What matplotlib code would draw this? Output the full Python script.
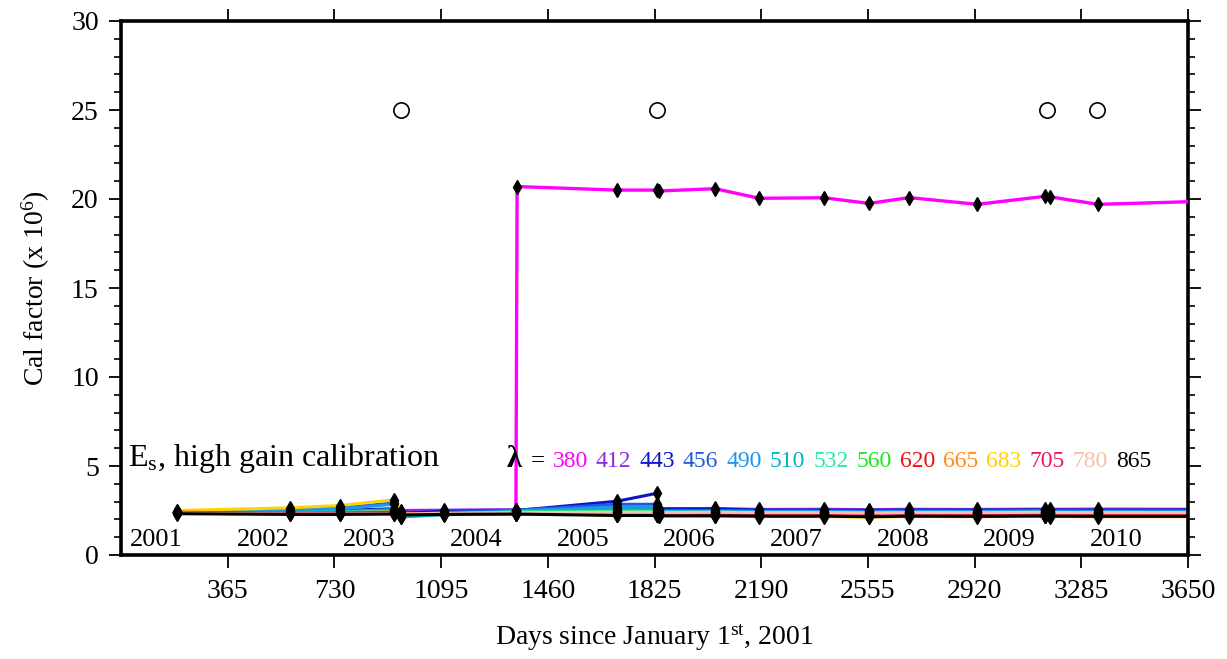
import matplotlib.pyplot as plt
import numpy as np

plt.rcParams['font.family'] = ['Liberation Serif', 'DejaVu Serif']
plt.rcParams['mathtext.fontset'] = 'custom'
plt.rcParams['mathtext.rm'] = 'Liberation Serif'
plt.rcParams['mathtext.it'] = 'Liberation Serif:italic'
plt.rcParams['mathtext.bf'] = 'Liberation Serif:bold'

# measurement days (days since 2001-01-01); last entry runs off the right edge
days_low = [192, 578, 749, 934, 958, 1105, 1351, 1697, 1834, 1841, 2032,
            2183, 2405, 2559, 2696, 2929, 3161, 3178, 3343, 3700]
days_380 = [1351, 1355, 1697, 1834, 1841, 2032, 2183, 2405, 2559, 2696,
            2929, 3161, 3178, 3343, 3700]

cal_380 = [2.50, 20.70, 20.50, 20.50, 20.45, 20.58, 20.04, 20.07, 19.75,
           20.08, 19.70, 20.15, 20.12, 19.70, 19.87]
cal_412 = [2.40, 2.35, 2.35, 2.40, 2.50, 2.52, 2.55, 2.58, 2.60, 2.58, 2.62,
           2.56, 2.57, 2.55, 2.57, 2.56, 2.58, 2.57, 2.58, 2.57]
cal_443 = [2.40, 2.45, 2.50, 2.60, 2.35, 2.45, 2.50, 3.02, 3.47, 2.60, 2.58,
           2.52, 2.52, 2.50, 2.52, 2.52, 2.53, 2.52, 2.52, 2.52]
cal_456 = [2.42, 2.55, 2.65, 2.92, 2.25, 2.40, 2.52, 2.85, 2.85, 2.50, 2.50,
           2.48, 2.48, 2.46, 2.48, 2.48, 2.49, 2.48, 2.48, 2.48]
cal_490 = [2.42, 2.50, 2.60, 2.85, 2.15, 2.30, 2.48, 2.70, 2.72, 2.45, 2.45,
           2.44, 2.44, 2.42, 2.44, 2.44, 2.45, 2.44, 2.44, 2.44]
cal_510 = [2.40, 2.40, 2.45, 2.55, 2.15, 2.25, 2.45, 2.55, 2.55, 2.42, 2.42,
           2.40, 2.40, 2.38, 2.40, 2.40, 2.42, 2.40, 2.40, 2.40]
cal_532 = [2.38, 2.38, 2.40, 2.45, 2.25, 2.30, 2.42, 2.45, 2.45, 2.40, 2.40,
           2.38, 2.38, 2.36, 2.38, 2.38, 2.40, 2.38, 2.38, 2.38]
cal_560 = [2.36, 2.34, 2.36, 2.40, 2.28, 2.32, 2.40, 2.40, 2.40, 2.36, 2.36,
           2.35, 2.35, 2.33, 2.35, 2.35, 2.36, 2.35, 2.35, 2.35]
cal_620 = [2.38, 2.35, 2.35, 2.38, 2.28, 2.30, 2.32, 2.28, 2.28, 2.26, 2.28,
           2.25, 2.25, 2.22, 2.25, 2.24, 2.26, 2.25, 2.24, 2.24]
cal_665 = [2.42, 2.38, 2.38, 2.42, 2.30, 2.30, 2.30, 2.26, 2.26, 2.22, 2.24,
           2.20, 2.20, 2.17, 2.20, 2.19, 2.21, 2.20, 2.19, 2.19]
cal_683 = [2.50, 2.65, 2.78, 3.10, 2.30, 2.32, 2.34, 2.24, 2.24, 2.20, 2.20,
           2.16, 2.16, 2.13, 2.16, 2.15, 2.17, 2.16, 2.15, 2.15]
cal_705 = [2.40, 2.36, 2.36, 2.40, 2.30, 2.32, 2.34, 2.30, 2.30, 2.28, 2.30,
           2.27, 2.27, 2.25, 2.27, 2.26, 2.28, 2.27, 2.26, 2.26]
cal_780 = [2.35, 2.30, 2.30, 2.32, 2.30, 2.34, 2.38, 2.40, 2.40, 2.38, 2.40,
           2.38, 2.38, 2.36, 2.38, 2.38, 2.40, 2.38, 2.38, 2.38]
cal_865 = [2.32, 2.28, 2.28, 2.30, 2.25, 2.28, 2.30, 2.22, 2.22, 2.20, 2.20,
           2.18, 2.18, 2.15, 2.18, 2.17, 2.19, 2.18, 2.17, 2.17]

# open circles at the top
event_days = [958, 1834, 3168, 3339]
event_level = 25

wavelengths = ["380", "412", "443", "456", "490", "510", "532", "560",
               "620", "665", "683", "705", "780", "865"]
colors = ["#ff00ff", "#8a2be2", "#0a14c8", "#1e5adc", "#1e96f0", "#00b4c8",
          "#2ee6a0", "#1ee61e", "#ee1010", "#ff8c1a", "#ffd200", "#ee1466",
          "#f5c0aa", "#000000"]
low_series = [cal_412, cal_443, cal_456, cal_490, cal_510, cal_532, cal_560,
              cal_620, cal_665, cal_683, cal_705, cal_780, cal_865]

years = list(range(2001, 2011))
xticks = [365 * k for k in range(1, 11)]

fig = plt.figure(figsize=(12.27, 6.59), dpi=100)
ax = fig.add_axes([121 / 1227, 104 / 659, 1067 / 1227, 534 / 659])

# lower group of lines
for vals, col in zip(low_series, colors[1:]):
    ax.plot(days_low, vals, color=col, lw=2.2, zorder=2)
ax.plot(days_380, cal_380, color=colors[0], lw=2.4, zorder=3)

# black diamond markers on every measurement
for vals in low_series:
    ax.plot(days_low[:-1], vals[:-1], 'd', color='k', ms=7, zorder=4)
ax.plot(days_380[:-1], cal_380[:-1], 'd', color='k', ms=7, zorder=4)

ax.plot(event_days, [event_level] * len(event_days), 'o', mfc='white',
        mec='k', ms=11, mew=1.2, zorder=4)

ax.set_xlim(0, 3650)
ax.set_ylim(0, 30)
ax.set_xticks(xticks)
ax.set_yticks(np.arange(0, 31, 5))
ax.set_yticks(np.arange(0, 31, 1), minor=True)
ax.tick_params(axis='both', which='major', labelsize=20, width=1.3,
               length=9, direction='out')
ax.tick_params(axis='y', which='minor', width=1.2, length=5, direction='out')
ax.tick_params(axis='x', top=True, pad=8)
ax.tick_params(axis='y', right=True, which='both', pad=7)
for s in ax.spines.values():
    s.set_linewidth(2.6)

ax.set_xlabel(r"Days since January 1$^{\rm st}$, 2001", fontsize=20,
              labelpad=14)
ax.set_ylabel(r"Cal factor (x 10$^{6}$)", fontsize=20, labelpad=14)

# year labels inside the plot
for k, yr in enumerate(years):
    ax.text(120 + 365 * k, 0.85, str(yr), fontsize=19, ha='center',
            va='center')

ax.text(24, 5.0, r"E$_{\rm s}$, high gain calibration", fontsize=23,
        ha='left', va='baseline')

# wavelength key
ax.text(1318, 4.95, "λ", fontsize=22, ha='left', va='baseline',
        fontweight='bold')
t = ax.text(1400, 4.95, "=", fontsize=18, ha='left', va='baseline')
for lab, col in zip(wavelengths, colors):
    t = ax.annotate(lab, xy=(1, 0), xycoords=t, xytext=(5.8, 0),
                    textcoords='offset points', fontsize=17, color=col,
                    va='bottom')

fig.savefig("out.png", dpi=100)
